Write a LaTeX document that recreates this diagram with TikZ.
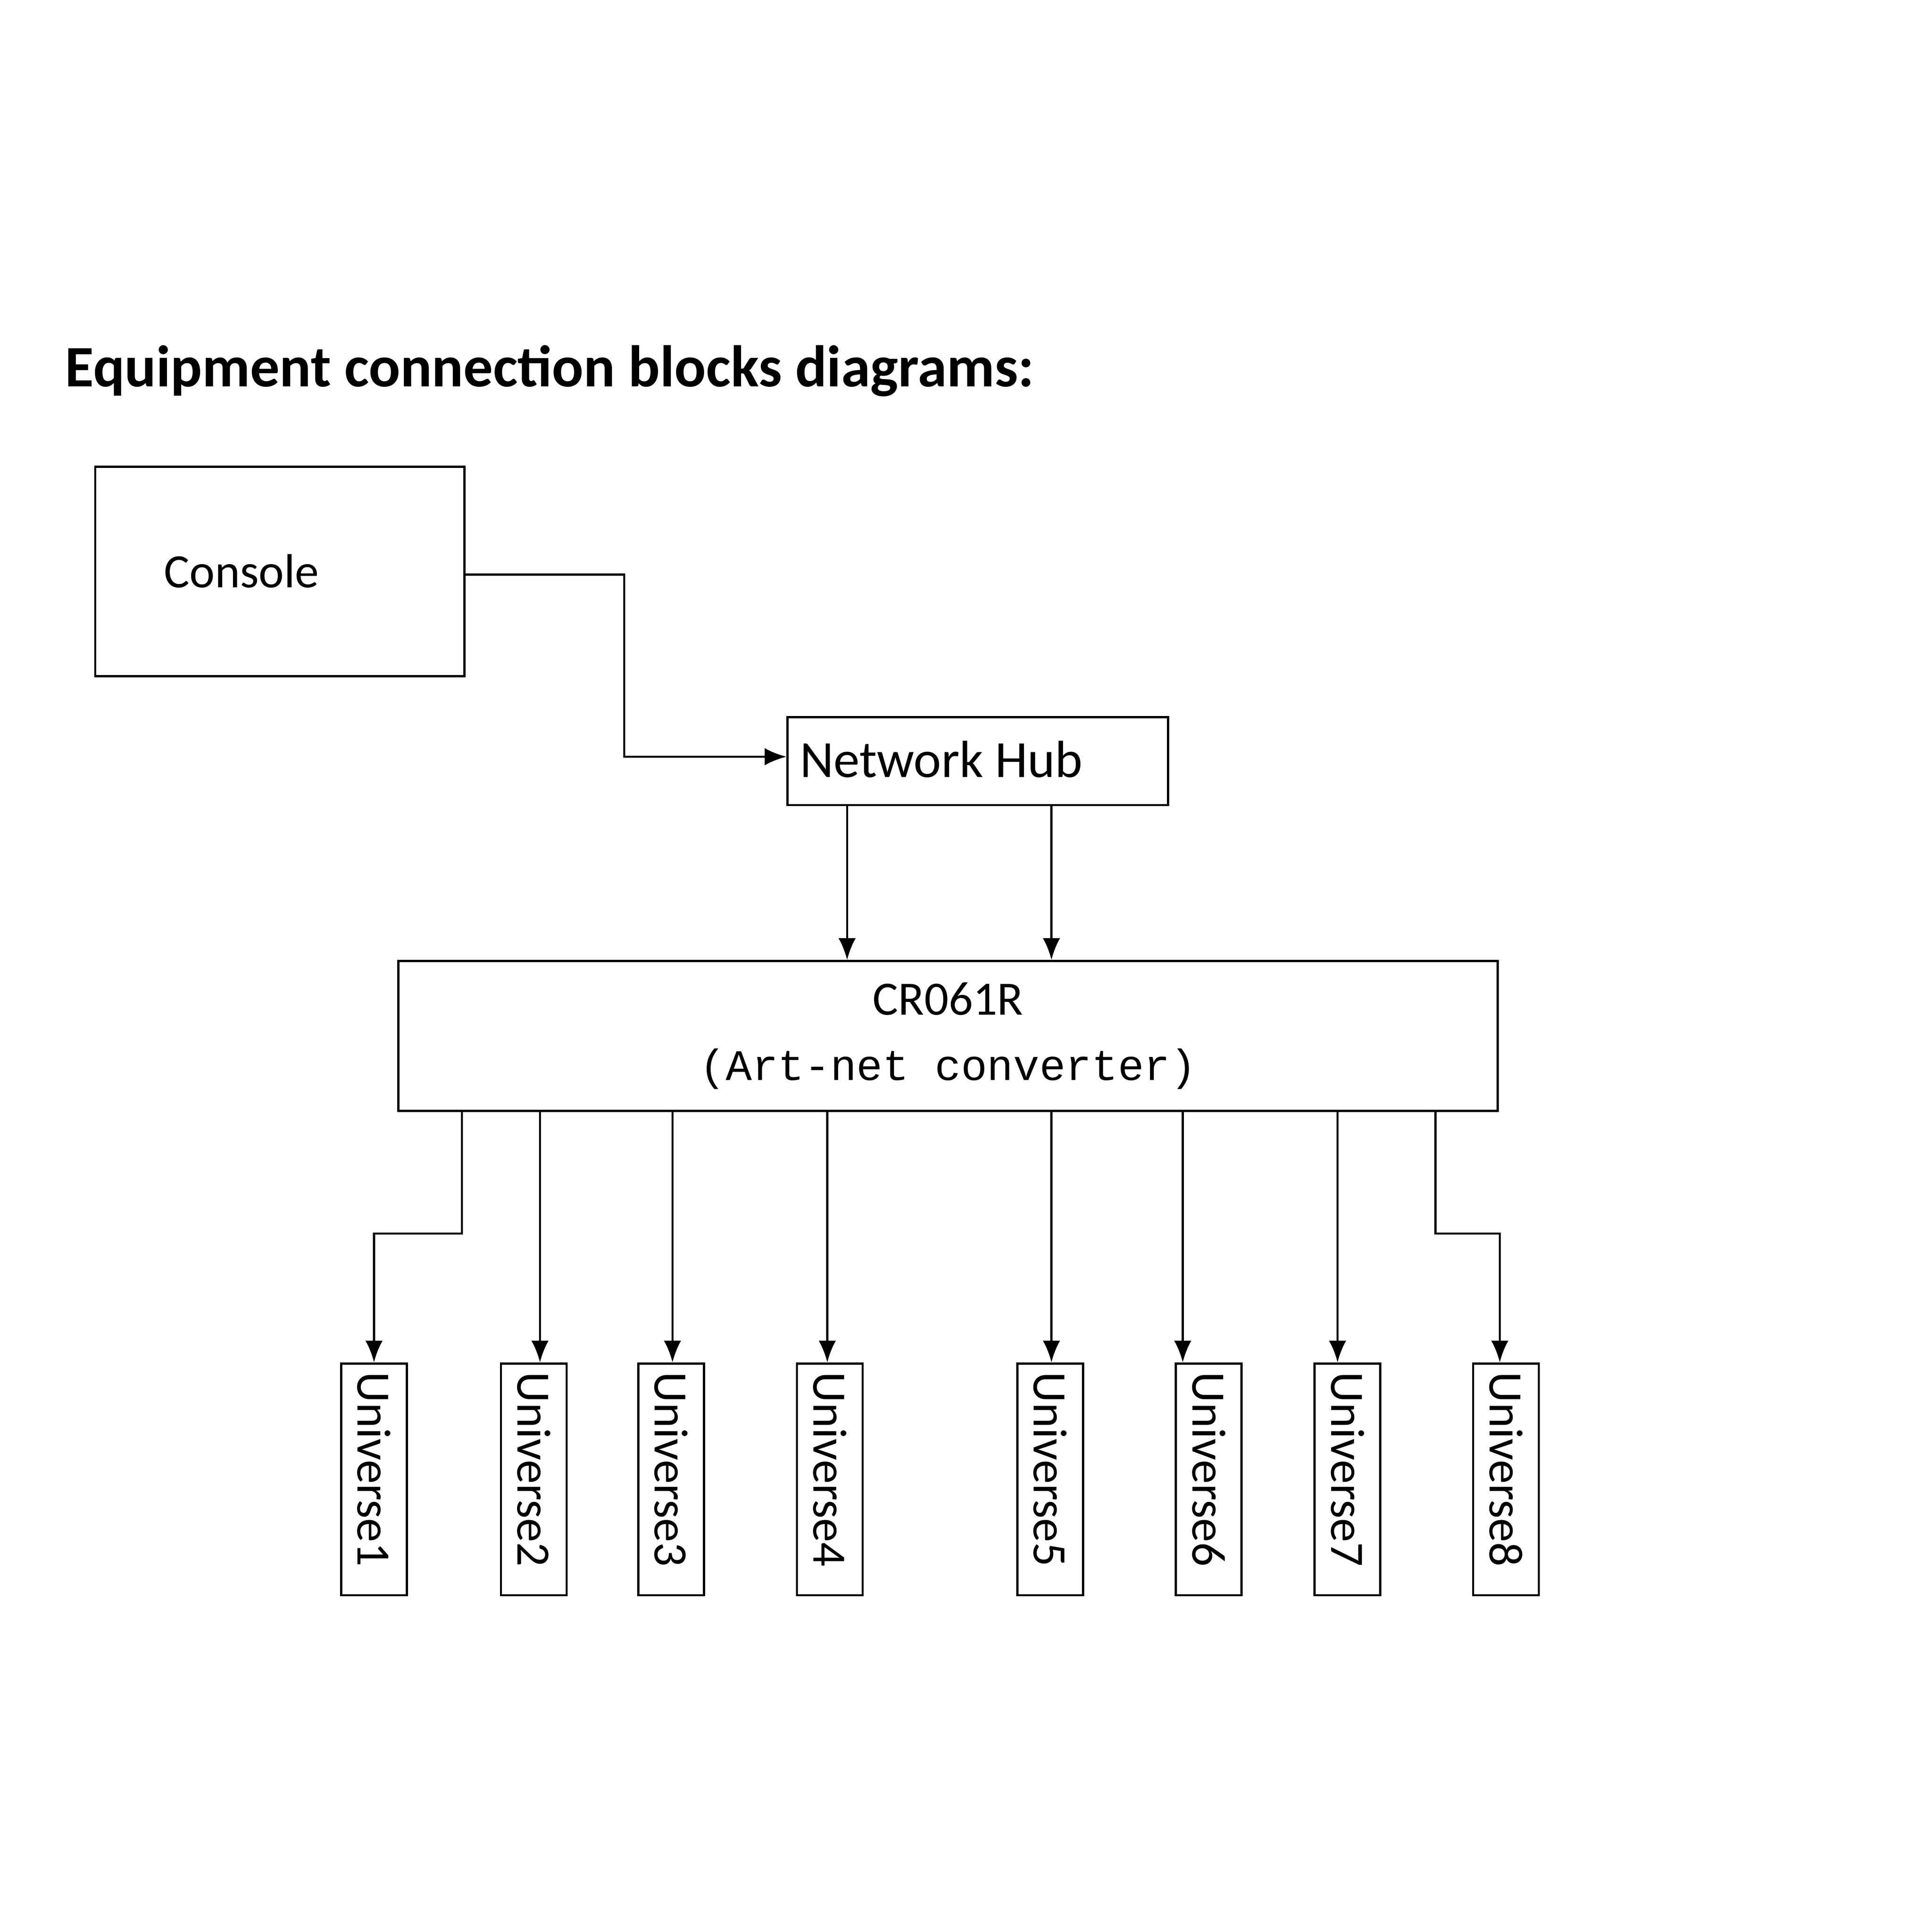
\documentclass[tikz,border=0pt]{standalone}
\usepackage{fontspec}
\setmainfont{Carlito}
\newfontfamily\monofam{Liberation Mono}
\usetikzlibrary{arrows.meta}
\begin{document}
\begin{tikzpicture}[x=0.01cm,y=-0.01cm]
			\tikzstyle{blk}=[draw=black,line width=0.5pt,inner sep=0pt,font=\fontsize{11}{13}\selectfont]
			\tikzstyle{uni}=[blk,minimum width=0.53cm,minimum height=1.87cm]
			\tikzstyle{arr}=[black,line width=0.5pt,-{Latex[length=5pt,width=4pt]}]
			\useasboundingbox (0,0) rectangle (1560,1560);
			\node[anchor=base west,font=\bfseries\fontsize{13.5}{16}\selectfont,inner sep=0pt] (title) at (52,312) {Equipment connection blocks diagrams:};
			\node[blk,minimum width=2.98cm,minimum height=1.69cm] (console) at (226,461.5) {};
			\node[font=\fontsize{11}{13}\selectfont] at (195,461) {Console};
			\node[blk,minimum width=3.07cm,minimum height=0.71cm] (hub) at (789.5,614.5) {};
			\node[font=\fontsize{12}{14}\selectfont] at (760,613) {Network Hub};
			\node[blk,minimum width=8.87cm,minimum height=1.21cm,align=center] (cr) at (765.5,836.5)
				{CR061R\\[2pt]{\monofam\fontsize{10}{12}\selectfont (Art-net converter)}};
			\node[uni] (u1) at (302,1194.5) {};
			\node[uni] (u2) at (431,1194.5) {};
			\node[uni] (u3) at (542,1194.5) {};
			\node[uni] (u4) at (670,1194.5) {};
			\node[uni] (u5) at (848,1194.5) {};
			\node[uni] (u6) at (976,1194.5) {};
			\node[uni] (u7) at (1088,1194.5) {};
			\node[uni] (u8) at (1216,1194.5) {};
			\foreach \i in {1,...,8}
				\node[rotate=-90,anchor=west,inner sep=0pt,font=\fontsize{11}{13}\selectfont] at ([yshift=-0.07cm]u\i.north) {Universe\i};
			\coordinate (c1) at (504,464);
			\draw[arr] (console.east |- c1) -| (504,611) -- (hub.west |- 0,611);
			\draw[arr] (hub.south -| 684,0) -- (cr.north -| 684,0);
			\draw[arr] (hub.south -| 849,0) -- (cr.north -| 849,0);
			\draw[arr] (cr.south -| 373,0) |- (302,996) -- (u1.north);
			\draw[arr] (cr.south -| 436,0) -- (u2.north -| 436,0);
			\draw[arr] (cr.south -| 543,0) -- (u3.north -| 543,0);
			\draw[arr] (cr.south -| 668,0) -- (u4.north -| 668,0);
			\draw[arr] (cr.south -| 849,0) -- (u5.north -| 849,0);
			\draw[arr] (cr.south -| 955,0) -- (u6.north -| 955,0);
			\draw[arr] (cr.south -| 1080,0) -- (u7.north -| 1080,0);
			\draw[arr] (cr.south -| 1159,0) |- (1211,996) -- (u8.north -| 1211,0);
\end{tikzpicture}
\end{document}
